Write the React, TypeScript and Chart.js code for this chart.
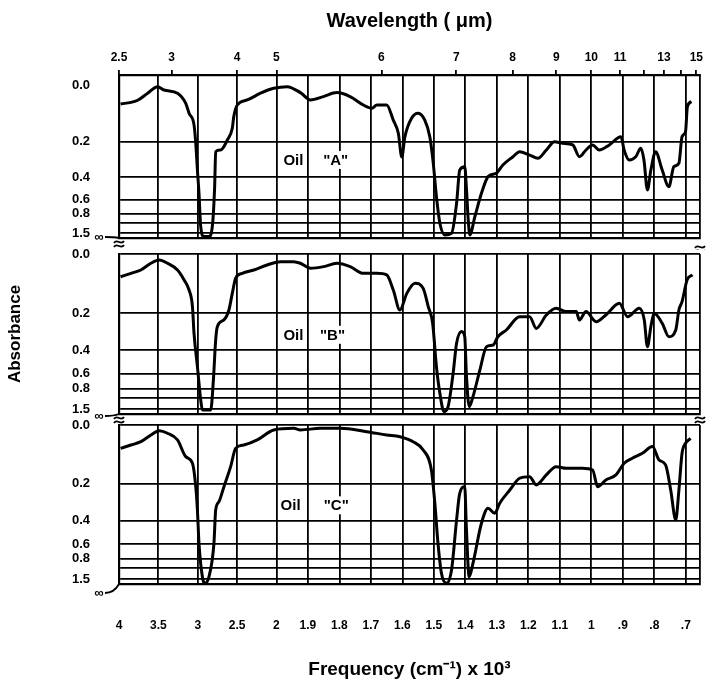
import React, { useEffect, useRef } from 'react';
import { Chart, registerables } from 'chart.js';

Chart.register(...registerables);

// ---------------- data ----------------
// Frequencies in cm^-1, values in percent transmittance (plotted on the absorbance scale)
const oilAFreq = [3980, 3763, 3637, 3510, 3427, 3257, 3152, 3110, 3047, 3025, 3004, 2984, 2962, 2921, 2858, 2815, 2785, 2772, 2709, 2624, 2561, 2542, 2498, 2371, 2203, 2034, 1966, 1924, 1892, 1851, 1808, 1766, 1724, 1697, 1681, 1650, 1629, 1613, 1602, 1592, 1571, 1550, 1529, 1513, 1502, 1492, 1481, 1465, 1444, 1428, 1418, 1402, 1397, 1391, 1386, 1370, 1349, 1328, 1302, 1281, 1249, 1228, 1196, 1170, 1143, 1117, 1091, 1059, 1038, 1017, 996, 975, 943, 906, 896, 880, 859, 843, 833, 822, 811, 796, 775, 754, 738, 722, 712, 701, 695, 682];
const oilAT = [87.5, 90, 94.6, 98.9, 96.7, 94.6, 88, 81.5, 73.9, 61.9, 44.4, 29.2, 7.4, 0.9, 0.9, 7.4, 33.5, 56.4, 57.5, 64, 71.7, 79.3, 86.9, 90.2, 94.6, 97.8, 98.9, 95, 90.2, 92.4, 95, 92.4, 86.9, 84.8, 86.9, 86.9, 77, 68.4, 53, 66.2, 78.2, 81.5, 77, 66.2, 48.8, 27, 9.6, 2, 3.1, 22.7, 44.4, 46.6, 33.5, 11.8, 2, 13.9, 29.2, 40.1, 42.3, 47.7, 53.1, 56.4, 54.2, 52.1, 57.5, 62.9, 61.9, 60.8, 53.1, 57.5, 60.8, 57.5, 60.8, 66.2, 57.5, 51, 53.1, 58.6, 51, 31.4, 44.4, 56.4, 44.4, 33.5, 46.6, 48.8, 66.2, 69.5, 85.8, 89.1];

const oilBFreq = [3980, 3848, 3722, 3595, 3490, 3384, 3257, 3173, 3110, 3067, 3047, 3004, 2962, 2941, 2835, 2801, 2772, 2751, 2667, 2604, 2561, 2519, 2434, 2287, 2118, 1987, 1945, 1924, 1892, 1850, 1808, 1766, 1724, 1681, 1650, 1629, 1608, 1586, 1560, 1534, 1518, 1504, 1492, 1481, 1468, 1455, 1439, 1428, 1412, 1402, 1397, 1388, 1376, 1354, 1333, 1312, 1297, 1270, 1228, 1196, 1175, 1143, 1112, 1080, 1048, 1038, 1017, 985, 954, 911, 885, 848, 832, 822, 811, 801, 775, 754, 732, 722, 712, 696, 679];
const oilBT = [85.8, 87.9, 90, 94.2, 96.3, 94.2, 90, 83.8, 77.5, 67.1, 50.4, 29.6, 8.8, 2.5, 2.5, 21.3, 46.3, 54.6, 58.8, 65, 75.4, 84.8, 87.9, 90, 93.1, 95.2, 95.2, 94.2, 91.1, 92.1, 94.2, 92.1, 87.9, 87.9, 86.9, 77.5, 65, 75.4, 81.7, 78.5, 67.1, 56.7, 29.6, 12.9, 1.5, 4.6, 25.4, 44.2, 51.5, 48.3, 25.4, 4.6, 10.8, 27.5, 42.1, 43.1, 48.3, 52.5, 60.8, 60.8, 53.5, 61.9, 66.1, 64, 64, 58.8, 64, 57.7, 61.9, 69.2, 60.8, 66.1, 58.8, 42.1, 54.6, 63, 56.7, 48.3, 52.5, 65, 70.2, 83.8, 86.9];

const oilCFreq = [3980, 3848, 3722, 3595, 3490, 3384, 3257, 3152, 3067, 3025, 3004, 2984, 2941, 2911, 2857, 2794, 2772, 2730, 2667, 2582, 2519, 2414, 2244, 2034, 1945, 1924, 1861, 1797, 1713, 1650, 1608, 1566, 1534, 1508, 1497, 1487, 1476, 1460, 1444, 1428, 1418, 1402, 1397, 1388, 1376, 1349, 1328, 1307, 1291, 1259, 1228, 1196, 1175, 1143, 1112, 1080, 1028, 996, 980, 954, 922, 896, 870, 838, 806, 785, 764, 748, 732, 722, 712, 701, 685];
const oilCT = [85.3, 87.4, 89.5, 93.7, 96.4, 94.8, 90.6, 80.1, 75.9, 61.2, 46.5, 25.6, 4.6, 0.4, 4.6, 25.6, 46.5, 51.8, 61.2, 73.8, 85.3, 87.4, 90.6, 96.9, 97.9, 96.9, 97.9, 97.9, 95.8, 93.7, 92.6, 89.5, 84.3, 71.7, 50.8, 25.6, 6.7, 0.4, 8.8, 40.3, 57, 61.2, 36, 4.6, 13, 38.2, 47.6, 44.5, 50.8, 59.1, 66.5, 67.5, 62.3, 68.6, 73.8, 72.8, 72.8, 71.7, 61.2, 65.4, 68.6, 75.9, 79.1, 82.2, 86.4, 78, 74.8, 59.1, 40.3, 59.1, 82.2, 88.5, 91.6];

const oilNames = [['Oil', '"A"'], ['Oil', '"B"'], ['Oil', '"C"']];

// tick values / labels
const freqTickValues = [4000, 3500, 3000, 2500, 2000, 1900, 1800, 1700, 1600, 1500, 1400, 1300, 1200, 1100, 1000, 900, 800, 700];
const freqTickLabels = ['4', '3.5', '3', '2.5', '2', '1.9', '1.8', '1.7', '1.6', '1.5', '1.4', '1.3', '1.2', '1.1', '1', '.9', '.8', '.7'];
const wavelengthTickValues = [2.5, 3, 4, 5, 6, 7, 8, 9, 10, 11, 12, 13, 14, 15];
const wavelengthTickLabels = ['2.5', '3', '4', '5', '6', '7', '8', '9', '10', '11', '', '13', '', '15'];
const absorbanceTickValues = [0, 0.2, 0.4, 0.6, 0.8, 1.0, 1.5];
const absorbanceTickLabels = ['0.0', '0.2', '0.4', '0.6', '0.8', '', '1.5'];

// ---------------- axis transform (spectrometer chart: scale change at 2000 cm-1) ----------------
const BREAK_FREQ = 2000;
const HIGH_PER_UNIT = 400; // cm-1 per axis unit above 2000
const LOW_PER_UNIT = 100; // cm-1 per axis unit below 2000
const toAxis = (nu: number) =>
  nu >= BREAK_FREQ
    ? (4000 - nu) / HIGH_PER_UNIT
    : (4000 - BREAK_FREQ) / HIGH_PER_UNIT + (BREAK_FREQ - nu) / LOW_PER_UNIT;
const FREQ_END = 655;
const X_MAX = toAxis(FREQ_END);

const FONT = "'Liberation Sans', Arial, Helvetica, sans-serif";
const GRID = '#000';
const LEFT_W = 119;

const yTickList = absorbanceTickValues
  .map((a, i) => ({ value: 100 * Math.pow(10, -a), label: absorbanceTickLabels[i] }))
  .sort((p, q) => p.value - q.value);

type Spec = {
  freq: number[];
  trans: number[];
  name: string[];
  nameFreq: number[];
  nameT: number;
  top: number;
  height: number;
  padTop: number;
  topAxis: boolean;
  bottomBox: number;
  bottomLabels: boolean;
  yMax: number;
  yTitle: boolean;
  hideTopGrid: boolean;
  infDy: number;
  breaks: number[] | null;
};

const PANELS: Spec[] = [
  { freq: oilAFreq, trans: oilAT, name: oilNames[0], nameFreq: [1946, 1812], nameT: 51, top: 0, height: 250, padTop: 0, topAxis: true, bottomBox: 12, bottomLabels: false, yMax: 106.5, yTitle: false, hideTopGrid: true, infDy: -1, breaks: [6, 11] },
  { freq: oilBFreq, trans: oilBT, name: oilNames[1], nameFreq: [1946, 1822], nameT: 49.5, top: 242, height: 182, padTop: 12, topAxis: false, bottomBox: 10, bottomLabels: false, yMax: 100, yTitle: true, hideTopGrid: false, infDy: 2, breaks: [6, 6] },
  { freq: oilCFreq, trans: oilCT, name: oilNames[2], nameFreq: [1955, 1810], nameT: 49.5, top: 418, height: 270, padTop: 7, topAxis: false, bottomBox: 104, bottomLabels: true, yMax: 100, yTitle: false, hideTopGrid: false, infDy: 9, breaks: null },
];

function tilde(ctx: CanvasRenderingContext2D, cx: number, cy: number) {
  ctx.beginPath();
  ctx.moveTo(cx - 5, cy + 1);
  ctx.bezierCurveTo(cx - 2, cy - 4, cx + 2, cy + 4, cx + 5, cy - 1);
  ctx.stroke();
}

const decorPlugin = {
  id: 'decor',
  beforeDatasetsDraw(chart: any, _args: any, opts: any) {
    const { ctx, scales } = chart;
    ctx.save();
    ctx.font = `bold 15px ${FONT}`;
    ctx.textAlign = 'center';
    ctx.textBaseline = 'middle';
    (opts.name as string[]).forEach((word, i) => {
      const x = scales.x.getPixelForValue(toAxis(opts.nameFreq[i]));
      const y = scales.y.getPixelForValue(opts.nameT);
      const w = ctx.measureText(word).width;
      ctx.fillStyle = '#fff';
      ctx.fillRect(x - w / 2 - 2, y - 9, w + 4, 18);
      ctx.fillStyle = '#000';
      ctx.fillText(word, x, y + 1);
    });
    ctx.restore();
  },
  afterDraw(chart: any, _args: any, opts: any) {
    const { ctx, chartArea: a } = chart;
    ctx.save();
    ctx.fillStyle = '#000';
    ctx.strokeStyle = '#000';
    ctx.lineWidth = 1.8;
    // infinity (T = 0) marker
    ctx.font = `bold 13px ${FONT}`;
    ctx.textAlign = 'center';
    ctx.textBaseline = 'middle';
    const iy = a.bottom + opts.infDy;
    ctx.fillText('∞', a.left - 20, iy);
    ctx.beginPath();
    ctx.moveTo(a.left - 14, iy);
    ctx.quadraticCurveTo(a.left - 5, iy, a.left, a.bottom);
    ctx.stroke();
    // axis break marks
    if (opts.breaks) {
      tilde(ctx, a.left, a.bottom + opts.breaks[0] - 2);
      tilde(ctx, a.left, a.bottom + opts.breaks[0] + 2);
      tilde(ctx, a.right, a.bottom + opts.breaks[1] - 2);
      tilde(ctx, a.right, a.bottom + opts.breaks[1] + 2);
    }
    ctx.restore();
  },
};

function buildConfig(spec: Spec): any {
  const xTicks = [...freqTickValues.map(toAxis), X_MAX];
  const scales: any = {
    x: {
      type: 'linear',
      position: 'bottom',
      min: 0,
      max: X_MAX,
      bounds: 'data',
      afterBuildTicks: (s: any) => {
        s.ticks = xTicks.map((v) => ({ value: v }));
      },
      afterFit: (s: any) => {
        s.height = spec.bottomBox;
        s.paddingLeft = 0;
        s.paddingRight = 0;
      },
      grid: { color: GRID, lineWidth: 1.8, drawTicks: false },
      border: { display: true, color: '#000', width: 2.2 },
      ticks: {
        display: spec.bottomLabels,
        autoSkip: false,
        maxRotation: 0,
        minRotation: 0,
        padding: 34,
        color: '#000',
        font: { family: FONT, size: 12, weight: 'bold' },
        callback: (_v: any, i: number) => freqTickLabels[i] ?? '',
      },
      title: spec.bottomLabels
        ? {
            display: true,
            text: 'Frequency (cm⁻¹) x 10³',
            color: '#000',
            font: { family: FONT, size: 19, weight: 'bold' },
            padding: { top: 0, bottom: 7 },
          }
        : { display: false },
    },
    y: {
      type: 'linear',
      position: 'left',
      min: 0,
      max: spec.yMax,
      bounds: 'data',
      afterBuildTicks: (s: any) => {
        s.ticks = yTickList.map((t) => ({ value: t.value }));
      },
      afterFit: (s: any) => {
        s.width = LEFT_W;
        s.paddingTop = 0;
        s.paddingBottom = 0;
      },
      grid: {
        color: (c: any) => (spec.hideTopGrid && c.tick && c.tick.value > 99.9 ? 'rgba(0,0,0,0)' : GRID),
        lineWidth: 1.8,
        drawTicks: false,
      },
      border: { display: true, color: '#000', width: 2.2 },
      ticks: {
        autoSkip: false,
        padding: 29,
        color: '#000',
        font: { family: FONT, size: 13, weight: 'bold' },
        callback: (_v: any, i: number) => (yTickList[i] ? yTickList[i].label : ''),
      },
      title: spec.yTitle
        ? {
            display: true,
            text: 'Absorbance',
            color: '#000',
            font: { family: FONT, size: 17, weight: 'bold' },
            padding: { top: 5, bottom: 0 },
          }
        : { display: false },
    },
  };
  if (spec.topAxis) {
    scales.x2 = {
      type: 'linear',
      position: 'top',
      min: 0,
      max: X_MAX,
      bounds: 'data',
      afterBuildTicks: (s: any) => {
        s.ticks = wavelengthTickValues.map((w) => ({ value: toAxis(10000 / w) }));
      },
      afterFit: (s: any) => {
        s.height = 75;
        s.paddingLeft = 0;
        s.paddingRight = 0;
      },
      grid: { drawOnChartArea: false, drawTicks: true, tickLength: 5, color: '#000', lineWidth: 1.8 },
      border: { display: true, color: '#000', width: 2.2 },
      ticks: {
        autoSkip: false,
        maxRotation: 0,
        minRotation: 0,
        padding: 5,
        color: '#000',
        font: { family: FONT, size: 12, weight: 'bold' },
        callback: (_v: any, i: number) => wavelengthTickLabels[i] ?? '',
      },
      title: {
        display: true,
        text: 'Wavelength ( μm)',
        color: '#000',
        font: { family: FONT, size: 20, weight: 'bold' },
        padding: { top: 9, bottom: 0 },
      },
    };
  }
  return {
    type: 'line',
    data: {
      datasets: [
        {
          label: spec.name.join(' '),
          data: spec.freq.map((f, i) => ({ x: toAxis(f), y: spec.trans[i] })),
          borderColor: '#000',
          borderWidth: 3,
          pointRadius: 0,
          fill: false,
          cubicInterpolationMode: 'monotone',
          xAxisID: 'x',
          yAxisID: 'y',
        },
      ],
    },
    options: {
      responsive: false,
      maintainAspectRatio: false,
      animation: false,
      devicePixelRatio: 1,
      layout: { padding: { left: 0, right: 8, top: spec.padTop, bottom: 0 } },
      plugins: {
        legend: { display: false },
        tooltip: { enabled: false },
        decor: {
          name: spec.name,
          nameFreq: spec.nameFreq,
          nameT: spec.nameT,
          infDy: spec.infDy,
          breaks: spec.breaks,
        },
      },
      scales,
    },
    plugins: [decorPlugin],
  };
}

function Panel({ spec }: { spec: Spec }) {
  const ref = useRef<HTMLCanvasElement>(null);
  useEffect(() => {
    if (!ref.current) return;
    const chart = new Chart(ref.current, buildConfig(spec));
    return () => chart.destroy();
  }, [spec]);
  return (
    <canvas
      ref={ref}
      width={708}
      height={spec.height}
      style={{ position: 'absolute', left: 0, top: spec.top, width: 708, height: spec.height }}
    />
  );
}

export default function App() {
  return (
    <div style={{ position: 'absolute', left: 0, top: 0, width: 708, height: 688, background: '#fff', overflow: 'hidden' }}>
      {PANELS.map((p, i) => (
        <Panel key={i} spec={p} />
      ))}
    </div>
  );
}
